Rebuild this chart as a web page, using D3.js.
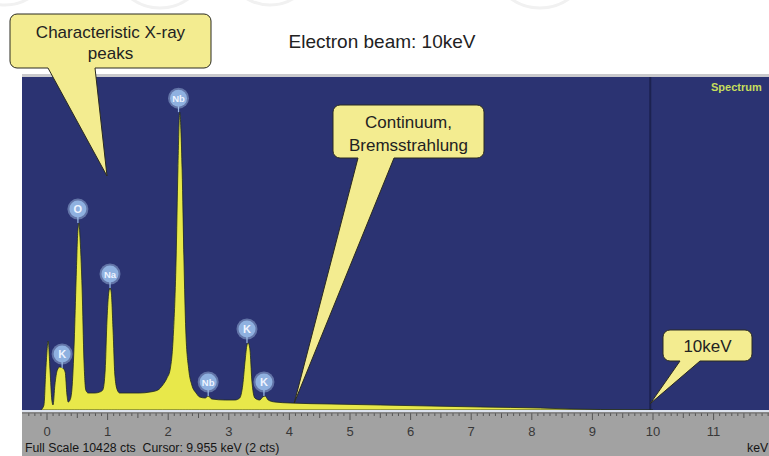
<!DOCTYPE html>
<html>
<head>
<meta charset="utf-8">
<script src="https://cdn.jsdelivr.net/npm/d3@7"></script>
<style>
  body { margin: 0; background: #fff; }
  svg { display: block; font-family: "Liberation Sans", Arial, sans-serif; }
</style>
</head>
<body>
<svg width="769" height="456"></svg>
<script>
// spectrum: [keV, counts]
var spectrum = [
  [-0.10, 0], [-0.05, 157], [-0.02, 1252], [0.02, 2160], [0.05, 1252], [0.08, 313],
  [0.10, 157], [0.13, 783], [0.17, 1252], [0.21, 1346], [0.26, 1315], [0.30, 1189],
  [0.33, 470], [0.35, 250], [0.38, 313], [0.41, 626], [0.45, 2191], [0.48, 4069],
  [0.51, 5634], [0.53, 5853], [0.54, 5571], [0.58, 3756], [0.61, 1565], [0.64, 626],
  [0.68, 532], [0.79, 532], [0.87, 563], [0.92, 626], [0.96, 1252], [0.99, 2817],
  [1.02, 3693], [1.04, 3819], [1.06, 3693], [1.09, 2504], [1.12, 1096], [1.16, 626],
  [1.20, 532], [1.53, 532], [1.70, 563], [1.83, 626], [1.91, 783], [1.98, 1002],
  [2.03, 1252], [2.08, 2191], [2.13, 4695], [2.16, 7512], [2.19, 9327], [2.23, 7512],
  [2.26, 4695], [2.29, 2504], [2.34, 1252], [2.39, 783], [2.46, 532], [2.52, 407],
  [2.61, 376], [2.66, 438], [2.72, 344], [2.94, 313], [3.10, 313], [3.18, 376],
  [3.23, 783], [3.27, 1565], [3.30, 2035], [3.32, 2097], [3.35, 1878], [3.38, 939],
  [3.43, 376], [3.51, 313], [3.56, 407], [3.60, 438], [3.65, 313], [3.76, 250],
  [4.01, 219], [4.67, 188], [5.50, 157], [6.32, 125], [7.15, 94], [8.14, 63],
  [8.63, 31], [9.13, 16], [10.0, 0]
];

// element markers: [label, keV, peak counts]
var peakLabels = [
  ["K", 0.25, 1315], ["O", 0.51, 5853], ["Na", 1.04, 3819], ["Nb", 2.17, 9327],
  ["Nb", 2.66, 438], ["K", 3.30, 2097], ["K", 3.58, 438]
];

var tickValues = [0, 1, 2, 3, 4, 5, 6, 7, 8, 9, 10, 11];
var fullScale = 10428;
var cursorKeV = 9.955;
var cursorCounts = 2;

var svg = d3.select("svg");

var x = d3.scaleLinear().domain([0, 11]).range([47, 713.6]);
var y = d3.scaleLinear().domain([0, fullScale]).range([410, 77]);

// faint watermark at the top
[[5, -40, 45], [160, -40, 48], [270, -40, 45], [540, -42, 50]].forEach(function(c) {
    svg.append("circle").attr("cx", c[0]).attr("cy", c[1]).attr("r", c[2])
        .attr("fill", "none").attr("stroke", "#f1f1f1").attr("stroke-width", 3);
});

// frame
svg.append("rect").attr("x", 22).attr("y", 74).attr("width", 747).attr("height", 3)
    .attr("fill", "#c9c9cc");
svg.append("rect").attr("x", 22).attr("y", 77).attr("width", 747).attr("height", 334)
    .attr("fill", "#2b3372");

// cursor
svg.append("line")
    .attr("x1", x(cursorKeV)).attr("x2", x(cursorKeV))
    .attr("y1", 77).attr("y2", 410)
    .attr("stroke", "#1c2250").attr("stroke-width", 2);

// spectrum
var area = d3.area()
    .x(function(d) { return x(d[0]); })
    .y0(y(0))
    .y1(function(d) { return y(d[1]); })
    .curve(d3.curveMonotoneX);

svg.append("path")
    .datum(spectrum)
    .attr("d", area)
    .attr("fill", "#e8e84a")
    .attr("stroke", "#1f2a20")
    .attr("stroke-width", 0.8);

// axis band
svg.append("rect").attr("x", 22).attr("y", 410).attr("width", 747).attr("height", 2)
    .attr("fill", "#dde3ee");
svg.append("rect").attr("x", 22).attr("y", 412).attr("width", 747).attr("height", 44)
    .attr("fill", "#a2a2a2");

var axis = svg.append("g").attr("transform", "translate(0,413)");
axis.selectAll(".minor")
    .data(d3.range(-3, 120))
    .enter().append("line")
    .attr("x1", function(d) { return x(d / 10); })
    .attr("x2", function(d) { return x(d / 10); })
    .attr("y1", 0)
    .attr("y2", function(d) { return d % 10 === 0 ? 7 : (d % 5 === 0 ? 5 : 3); })
    .attr("stroke", "#555")
    .attr("stroke-width", 1);
axis.append("line").attr("x1", 22).attr("x2", 769).attr("y1", 0).attr("y2", 0)
    .attr("stroke", "#6a6a6a");
axis.selectAll(".tl")
    .data(tickValues)
    .enter().append("text")
    .attr("x", function(d) { return x(d); })
    .attr("y", 22.5)
    .attr("text-anchor", "middle")
    .attr("font-size", 13)
    .attr("fill", "#383838")
    .text(function(d) { return d; });

svg.append("text")
    .attr("x", 25).attr("y", 452)
    .attr("font-size", 12.3)
    .attr("fill", "#151515")
    .style("white-space", "pre")
    .text("Full Scale " + fullScale + " cts  Cursor: " + cursorKeV + " keV (" + cursorCounts + " cts)");
svg.append("text")
    .attr("x", 747).attr("y", 452)
    .attr("font-size", 12.3)
    .attr("fill", "#151515")
    .text("keV");

svg.append("text")
    .attr("x", 711).attr("y", 91)
    .attr("font-size", 11)
    .attr("font-weight", "bold")
    .attr("fill", "#c6de5c")
    .text("Spectrum");

// element markers
var marker = svg.selectAll(".marker")
    .data(peakLabels)
    .enter().append("g")
    .attr("transform", function(d) {
        return "translate(" + x(d[1]) + "," + (y(d[2]) - 14) + ")";
    });
marker.append("line").attr("x1", 0).attr("x2", 0).attr("y1", 8).attr("y2", 14)
    .attr("stroke", "#9cbde6").attr("stroke-width", 1.2);
marker.append("circle").attr("r", 10.5)
    .attr("fill", "#a7c3e8").attr("opacity", 0.45);
marker.append("circle").attr("r", 8.5)
    .attr("fill", "#8fb1e0");
marker.append("text")
    .attr("text-anchor", "middle")
    .attr("dy", 3.8)
    .attr("font-size", function(d) { return d[0].length > 1 ? 9.5 : 11; })
    .attr("font-weight", "bold")
    .attr("fill", "#eef4ff")
    .text(function(d) { return d[0]; });

// title
svg.append("text")
    .attr("x", 382).attr("y", 48)
    .attr("text-anchor", "middle")
    .attr("font-size", 19)
    .attr("fill", "#222")
    .text("Electron beam: 10keV");

// callouts
function callout(x0, y0, x1, y1, ta, tb, tip, lines, lineY) {
    var r = 7;
    var p = d3.path();
    p.moveTo(x0 + r, y0);
    p.lineTo(x1 - r, y0);
    p.arcTo(x1, y0, x1, y0 + r, r);
    p.lineTo(x1, y1 - r);
    p.arcTo(x1, y1, x1 - r, y1, r);
    p.lineTo(tb, y1);
    p.lineTo(tip[0], tip[1]);
    p.lineTo(ta, y1);
    p.lineTo(x0 + r, y1);
    p.arcTo(x0, y1, x0, y1 - r, r);
    p.lineTo(x0, y0 + r);
    p.arcTo(x0, y0, x0 + r, y0, r);
    p.closePath();
    svg.append("path").attr("d", p.toString())
        .attr("fill", "#f3ec90")
        .attr("stroke", "#2a2a20")
        .attr("stroke-width", 1);
    lines.forEach(function(t, i) {
        svg.append("text")
            .attr("x", (x0 + x1) / 2).attr("y", lineY[i])
            .attr("text-anchor", "middle")
            .attr("font-size", 17)
            .attr("fill", "#222")
            .text(t);
    });
}

callout(10, 14, 211, 68, 48, 95, [107, 176], ["Characteristic X-ray", "peaks"], [38, 59]);
callout(333, 105, 484, 158, 358, 394, [x(4.08), y(220)], ["Continuum,", "Bremsstrahlung"], [128, 151]);
callout(663, 330, 752, 361, 680, 700, [x(cursorKeV), y(200)], ["10keV"], [352]);
</script>
</body>
</html>
